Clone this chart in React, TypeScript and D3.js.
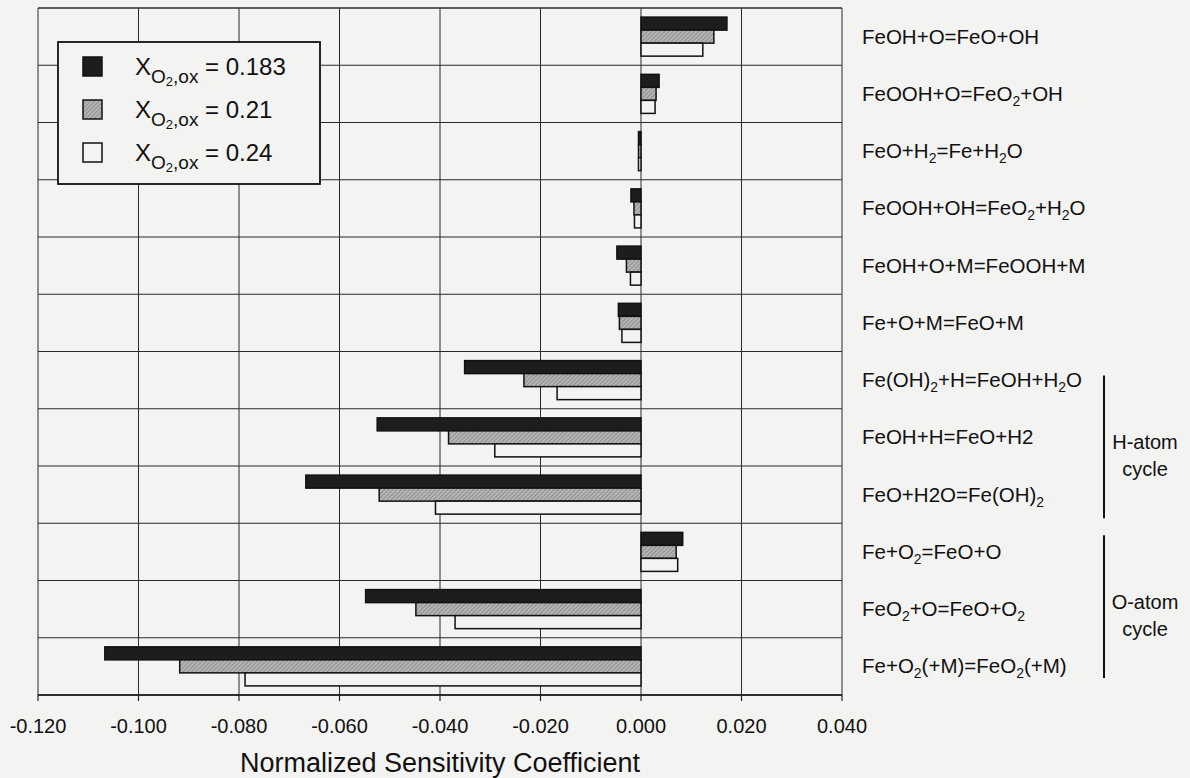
import React from 'react';
import * as d3 from 'd3';

const width = 1190;
const height = 778;
const margin = { top: 8, right: 348, bottom: 83, left: 38 };
const font = 'Liberation Sans, Arial, Helvetica, sans-serif';
const bg = '#f3f3f1';

// reactions, top to bottom ("_" marks a subscript digit)
const reactions = [
  'FeOH+O=FeO+OH',
  'FeOOH+O=FeO_2+OH',
  'FeO+H_2=Fe+H_2O',
  'FeOOH+OH=FeO_2+H_2O',
  'FeOH+O+M=FeOOH+M',
  'Fe+O+M=FeO+M',
  'Fe(OH)_2+H=FeOH+H_2O',
  'FeOH+H=FeO+H2',
  'FeO+H2O=Fe(OH)_2',
  'Fe+O_2=FeO+O',
  'FeO_2+O=FeO+O_2',
  'Fe+O_2(+M)=FeO_2(+M)',
];

const seriesKeys = ['0.183', '0.21', '0.24'];
const values0183 = [0.0171, 0.0036, -0.0005, -0.0020, -0.0048, -0.0045, -0.0351, -0.0525, -0.0667, 0.0083, -0.0548, -0.1067];
const values021 = [0.0145, 0.0030, -0.0005, -0.0014, -0.0029, -0.0043, -0.0233, -0.0383, -0.0521, 0.0070, -0.0448, -0.0918];
const values024 = [0.0123, 0.0028, -0.0005, -0.0013, -0.0021, -0.0038, -0.0167, -0.0291, -0.0409, 0.0073, -0.0370, -0.0788];
const seriesValues = [values0183, values021, values024];

const xTicks = [-0.12, -0.1, -0.08, -0.06, -0.04, -0.02, 0, 0.02, 0.04];

// reaction groups drawn with a bracket on the right
const groups = [
  { first: 6, last: 8, lines: ['H-atom', 'cycle'] },
  { first: 9, last: 11, lines: ['O-atom', 'cycle'] },
];

const fills = ['#1d1d1d', 'url(#grayHatch)', bg];

const fmt = t => d3.format('.3f')(t).replace('\u2212', '-');

function Formula({ text, x, y, size }) {
  // split into normal and subscript parts
  const parts = [];
  let buf = '';
  for (let i = 0; i < text.length; i++) {
    if (text[i] === '_' && i + 1 < text.length) {
      if (buf) parts.push({ t: buf, sub: false });
      buf = '';
      parts.push({ t: text[i + 1], sub: true });
      i++;
    } else {
      buf += text[i];
    }
  }
  if (buf) parts.push({ t: buf, sub: false });

  let down = false;
  return (
    <text x={x} y={y} fontSize={size} fontFamily={font} fill="#111">
      {parts.map((p, i) => {
        let dy = 0;
        if (p.sub && !down) { dy = 5; down = true; }
        else if (!p.sub && down) { dy = -5; down = false; }
        return (
          <tspan key={i} dy={dy} fontSize={p.sub ? size * 0.68 : size}>{p.t}</tspan>
        );
      })}
    </text>
  );
}

export default function App() {
  const plotRight = width - margin.right;
  const plotBottom = height - margin.bottom;

  const xScale = d3.scaleLinear().domain([-0.12, 0.04]).range([margin.left, plotRight]);
  const yScale = d3.scaleBand().domain(reactions).range([margin.top, plotBottom]).padding(0);
  const inner = d3.scaleBand().domain(seriesKeys).range([0, yScale.bandwidth()]).paddingInner(0).paddingOuter(0.7);

  const rowEdges = reactions.map(r => yScale(r)).concat([plotBottom]);

  return (
    <div style={{ width: '100%' }}>
      <svg width={width} height={height} style={{ position: 'absolute', left: 0, top: 0, background: bg }}>
        <defs>
          <pattern id="grayHatch" width="3" height="3" patternUnits="userSpaceOnUse" patternTransform="rotate(45)">
            <rect width="3" height="3" fill="#b4b4b4" />
            <line x1="0" y1="0" x2="0" y2="3" stroke="#7a7a7a" strokeWidth="1.2" />
          </pattern>
        </defs>

        {/* grid */}
        {xTicks.map(t => (
          <line key={'v' + t} x1={xScale(t)} x2={xScale(t)} y1={margin.top} y2={plotBottom} stroke="#2a2a2a" strokeWidth="1" />
        ))}
        {rowEdges.map((y, i) => (
          <line key={'h' + i} x1={margin.left} x2={plotRight} y1={y} y2={y} stroke="#2a2a2a" strokeWidth={i === 0 || i === rowEdges.length - 1 ? 1.5 : 1.2} />
        ))}

        {/* bars */}
        {reactions.map((r, ri) => (
          <g key={r} transform={`translate(0, ${yScale(r)})`}>
            {seriesKeys.map((k, si) => {
              const v = seriesValues[si][ri];
              const x0 = xScale(Math.min(0, v));
              const x1 = xScale(Math.max(0, v));
              return (
                <rect key={k} x={x0} y={inner(k)} width={Math.max(1.5, x1 - x0)} height={inner.bandwidth()}
                  fill={fills[si]} stroke="#111" strokeWidth="1.5" />
              );
            })}
          </g>
        ))}

        {/* x axis */}
        <line x1={margin.left} x2={plotRight} y1={plotBottom} y2={plotBottom} stroke="#222" strokeWidth="1.5" />
        {xTicks.map(t => (
          <g key={'t' + t}>
            <line x1={xScale(t)} x2={xScale(t)} y1={plotBottom} y2={plotBottom + 6} stroke="#222" strokeWidth="1.2" />
            <text x={xScale(t)} y={plotBottom + 38} textAnchor="middle" fontSize="20" fontFamily={font} fill="#111">
              {fmt(t)}
            </text>
          </g>
        ))}
        <text x={(margin.left + plotRight) / 2} y={772} textAnchor="middle" fontSize="27" fontFamily={font} fill="#111">
          Normalized Sensitivity Coefficient
        </text>

        {/* reaction labels */}
        {reactions.map(r => (
          <Formula key={'l' + r} text={r} x={862} y={yScale(r) + yScale.bandwidth() / 2 + 7} size={20.5} />
        ))}

        {/* cycle brackets */}
        {groups.map((g, gi) => {
          const top = yScale(reactions[g.first]) + (gi === 0 ? 24 : 12);
          const bot = yScale(reactions[g.last]) + yScale.bandwidth() - (gi === 0 ? 5 : 17);
          const mid = (top + bot) / 2;
          return (
            <g key={'g' + gi}>
              <line x1={1104} x2={1104} y1={top} y2={bot} stroke="#111" strokeWidth="2" />
              {g.lines.map((s, li) => (
                <text key={s} x={1145} y={mid + 2 + li * 27} textAnchor="middle" fontSize="20" fontFamily={font} fill="#111">{s}</text>
              ))}
            </g>
          );
        })}

        {/* legend */}
        <g>
          <rect x={58} y={42} width={262} height={142} fill={bg} stroke="#111" strokeWidth="1.8" />
          {seriesKeys.map((k, i) => {
            const cy = 66 + i * 43;
            return (
              <g key={'lg' + k}>
                <rect x={83} y={cy - 9} width={19} height={19} fill={fills[i]} stroke="#111" strokeWidth="1.5" />
                <text x={135} y={cy + 9} fontSize="24" fontFamily={font} fill="#111">
                  X
                  <tspan dy={8} fontSize="19">O</tspan>
                  <tspan dy={3} fontSize="13">2</tspan>
                  <tspan dy={-3} fontSize="19">,ox</tspan>
                  <tspan dy={-8} fontSize="24">{' = ' + k}</tspan>
                </text>
              </g>
            );
          })}
        </g>
      </svg>
    </div>
  );
}
